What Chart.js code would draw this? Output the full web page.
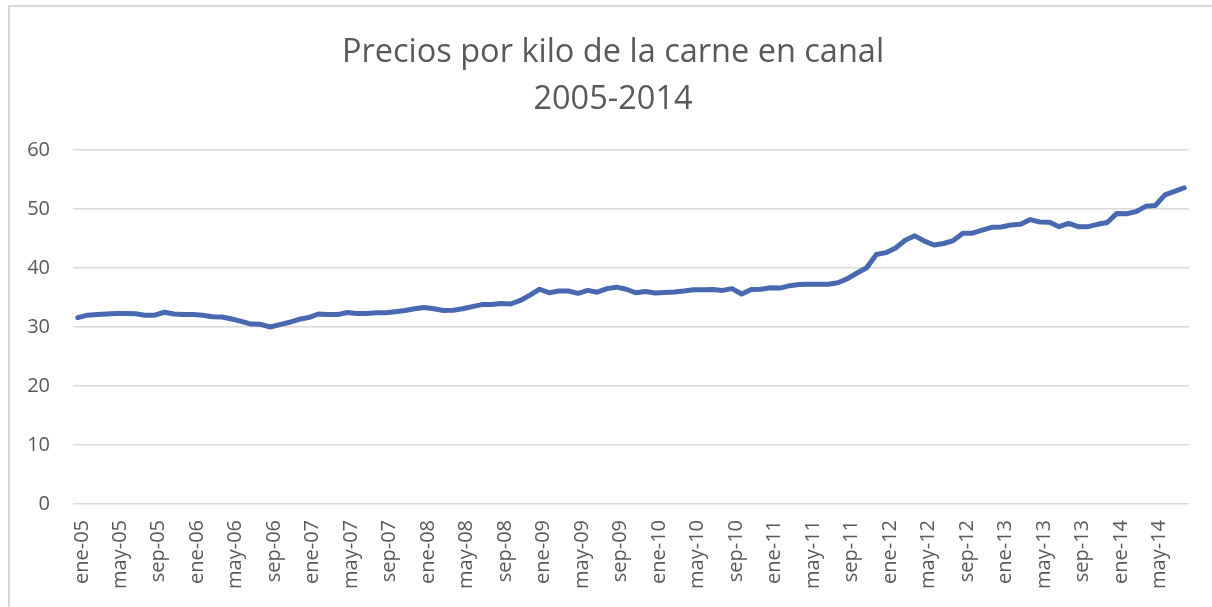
<!DOCTYPE html>
<html>
<head>
<meta charset="utf-8">
<script src="https://cdn.jsdelivr.net/npm/chart.js@4/dist/chart.umd.min.js"></script>
<style>
  html, body { margin: 0; padding: 0; background: #fff; overflow: hidden; }
  #wrap { position: relative; width: 1212px; height: 607px; overflow: hidden; }
  #frame { position: absolute; left: 8px; top: 5px; width: 1300px; height: 700px;
           border-left: 2px solid #d9d9d9; border-top: 2px solid #d9d9d9; box-sizing: border-box; }
  canvas { position: absolute; left: 0; top: 0; }
</style>
</head>
<body>
<div id="wrap">
  <div id="frame"></div>
  <canvas id="c" width="1212" height="607"></canvas>
</div>
<script>
const titleLines = ['Precios por kilo de la carne en canal', '2005-2014'];

const categories = [
  'ene-05','feb-05','mar-05','abr-05','may-05','jun-05','jul-05','ago-05','sep-05','oct-05','nov-05','dic-05',
  'ene-06','feb-06','mar-06','abr-06','may-06','jun-06','jul-06','ago-06','sep-06','oct-06','nov-06','dic-06',
  'ene-07','feb-07','mar-07','abr-07','may-07','jun-07','jul-07','ago-07','sep-07','oct-07','nov-07','dic-07',
  'ene-08','feb-08','mar-08','abr-08','may-08','jun-08','jul-08','ago-08','sep-08','oct-08','nov-08','dic-08',
  'ene-09','feb-09','mar-09','abr-09','may-09','jun-09','jul-09','ago-09','sep-09','oct-09','nov-09','dic-09',
  'ene-10','feb-10','mar-10','abr-10','may-10','jun-10','jul-10','ago-10','sep-10','oct-10','nov-10','dic-10',
  'ene-11','feb-11','mar-11','abr-11','may-11','jun-11','jul-11','ago-11','sep-11','oct-11','nov-11','dic-11',
  'ene-12','feb-12','mar-12','abr-12','may-12','jun-12','jul-12','ago-12','sep-12','oct-12','nov-12','dic-12',
  'ene-13','feb-13','mar-13','abr-13','may-13','jun-13','jul-13','ago-13','sep-13','oct-13','nov-13','dic-13',
  'ene-14','feb-14','mar-14','abr-14','may-14','jun-14','jul-14','ago-14'
];

const prices = [
  31.6, 32.0, 32.1, 32.2, 32.3, 32.3, 32.25, 32.0, 32.0, 32.5, 32.2, 32.1,
  32.1, 32.0, 31.75, 31.7, 31.35, 30.95, 30.5, 30.45, 30.0, 30.4, 30.8, 31.3,
  31.6, 32.2, 32.1, 32.1, 32.45, 32.3, 32.3, 32.4, 32.4, 32.6, 32.8, 33.1,
  33.3, 33.1, 32.8, 32.85, 33.1, 33.45, 33.8, 33.8, 34.0, 33.9, 34.5, 35.4,
  36.4, 35.8, 36.1, 36.1, 35.7, 36.2, 35.9, 36.5, 36.75, 36.4, 35.8, 36.0,
  35.75, 35.85, 35.95, 36.1, 36.3, 36.3, 36.35, 36.2, 36.5, 35.6, 36.35, 36.4,
  36.65, 36.6, 37.0, 37.2, 37.25, 37.25, 37.25, 37.5, 38.2, 39.15, 40.05, 42.3,
  42.6, 43.4, 44.7, 45.45, 44.55, 43.9, 44.15, 44.65, 45.9, 45.9, 46.4, 46.9,
  46.95, 47.3, 47.4, 48.2, 47.8, 47.75, 47.0, 47.55, 47.0, 47.0, 47.4, 47.7,
  49.25, 49.2, 49.55, 50.45, 50.6, 52.4, 53.0, 53.6
];

const yMin = 0, yMax = 60, yStep = 10;
const labelEvery = 4;

const FONT = "'Open Sans', 'Liberation Sans', sans-serif";
const TEXT = '#595959';

new Chart(document.getElementById('c'), {
  type: 'line',
  data: {
    labels: categories,
    datasets: [{
      data: prices,
      borderColor: '#4868b0',
      borderWidth: 5,
      borderCapStyle: 'round',
      borderJoinStyle: 'round',
      pointRadius: 0,
      tension: 0,
      fill: false
    }]
  },
  options: {
    responsive: false,
    animation: false,
    layout: { padding: { left: 14, right: 0, top: 0, bottom: 0 } },
    plugins: {
      legend: { display: false },
      tooltip: { enabled: false },
      title: {
        display: true,
        text: titleLines,
        color: TEXT,
        font: { family: FONT, size: 32.5, weight: 'normal', lineHeight: 1.446 },
        padding: { top: 29, bottom: 27 }
      }
    },
    scales: {
      x: {
        offset: true,
        grid: { display: false, drawTicks: false },
        border: { display: false },
        ticks: {
          autoSkip: false,
          maxRotation: 90,
          minRotation: 90,
          padding: 16,
          labelOffset: 4,
          color: TEXT,
          font: { family: FONT, size: 20 },
          callback: function (value, index) {
            return index % labelEvery === 0 ? this.getLabelForValue(value) : null;
          }
        },
        afterFit: (s) => { s.height = 103; }
      },
      y: {
        min: yMin,
        max: yMax,
        grid: { color: '#d9d9d9', lineWidth: 1.4, drawTicks: false },
        border: { display: false },
        ticks: {
          stepSize: yStep,
          padding: 23,
          color: TEXT,
          font: { family: FONT, size: 20 }
        },
        afterFit: (s) => { s.width = 59; }
      },
      rightSpace: {
        type: 'linear',
        position: 'right',
        display: true,
        grid: { display: false, drawTicks: false },
        border: { display: false },
        ticks: { display: false },
        afterFit: (s) => { s.width = 23; }
      }
    }
  }
});
</script>
</body>
</html>
